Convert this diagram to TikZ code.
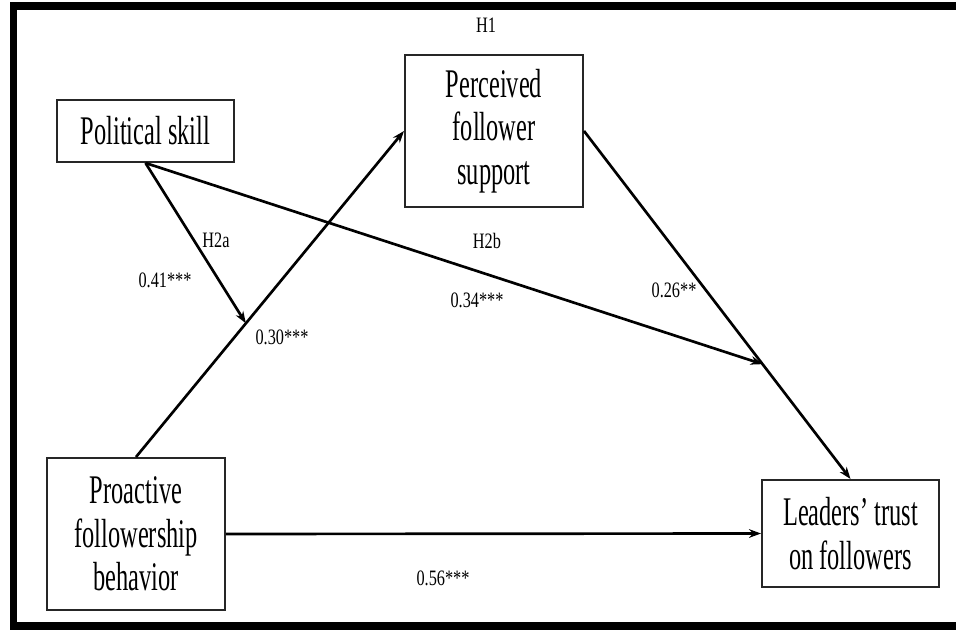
\documentclass[tikz,border=0pt]{standalone}
\usepackage{fontspec}
\setmainfont{Liberation Serif}
\newfontfamily\boxfont{Liberation Serif}[FakeStretch=0.6]
\newfontfamily\labfont{Liberation Serif}[FakeStretch=0.74]
\usetikzlibrary{arrows.meta,calc}
\begin{document}
\begin{tikzpicture}[x=0.75pt,y=-0.75pt,
  box/.style={draw=black!85,line width=1.5pt,inner sep=0pt,align=center,font=\boxfont\fontsize{30.5}{32.5}\selectfont},
  lab/.style={inner sep=0pt,font=\labfont\fontsize{16.5}{18}\selectfont},
  conn/.style={line width=2pt,-{Stealth[length=9pt,width=6.5pt]}}]
\useasboundingbox (0,0) rectangle (956,630);
% frame
\fill[black] (10,2) rectangle (956,10);
\fill[black] (10,2) rectangle (17,630);
\fill[black] (10,622) rectangle (956,630);
% boxes
\node[box,minimum width=132.75pt,minimum height=46.5pt] (ps) at (145.5,131) {Political skill};
\node[box,minimum width=133.5pt,minimum height=114pt] (pfb) at (136,534) {Proactive\\followership\\behavior};
\node[box,minimum width=133.5pt,minimum height=114pt] (pfs) at (494,131) {Perceived\\follower\\support};
\node[box,minimum width=132.75pt,minimum height=80.25pt] (ltf) at (850.5,533.5) {Leaders’ trust\\on followers};
% connectors
\draw[conn] (pfb.north) -- (pfs.west);
\draw[conn] (pfs.east) -- (ltf.north);
\draw[conn] (pfb.east) -- (ltf.west);
\coordinate (m1) at ($(pfb.north)!0.41!(pfs.west)$);
\coordinate (m2) at ($(pfs.east)!0.67!(ltf.north)$);
\draw[conn] (ps.south) -- (m1);
\draw[conn] (ps.south) -- (m2);
% labels
\node[lab] (h1) at (486,25) {H1};
\node[lab] (h2a) at (216,240) {H2a};
\node[lab] (c41) at (165,280) {0.41***};
\node[lab] (c30) at (282,337) {0.30***};
\node[lab] (h2b) at (487,241) {H2b};
\node[lab] (c34) at (477,300) {0.34***};
\node[lab] (c26) at (674,290) {0.26**};
\node[lab] (c56) at (443,578) {0.56***};
\end{tikzpicture}
\end{document}
